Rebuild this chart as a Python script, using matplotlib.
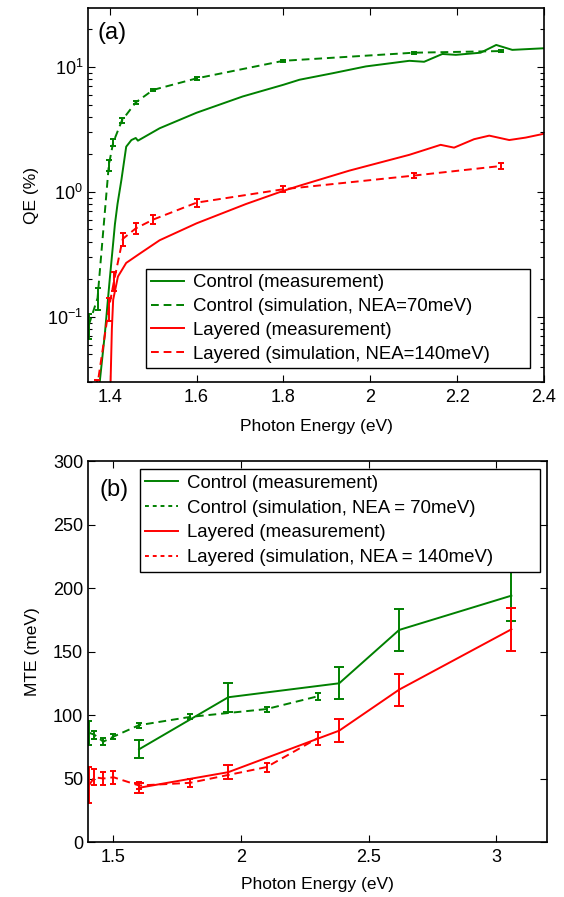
import numpy as np
import matplotlib
matplotlib.use("Agg")
import matplotlib.pyplot as plt
from matplotlib.lines import Line2D

plt.rcParams['font.family'] = ['Liberation Sans', 'DejaVu Sans']
plt.rcParams['font.size'] = 12.5
plt.rcParams['xtick.labelsize'] = 13
plt.rcParams['ytick.labelsize'] = 13
plt.rcParams['mathtext.fontset'] = 'custom'
plt.rcParams['mathtext.rm'] = 'Liberation Sans'

GREEN = '#008000'
RED = '#ff0000'

# ---- panel (a): QE vs photon energy ----
ctrl_meas_e = [1.377, 1.389, 1.400, 1.408, 1.412, 1.418, 1.427, 1.438, 1.450, 1.460,
               1.465, 1.515, 1.600, 1.706, 1.800, 1.837, 1.913, 1.990, 2.090, 2.124,
               2.166, 2.197, 2.254, 2.290, 2.327, 2.398]
ctrl_meas_qe = [0.03, 0.074, 0.198, 0.39, 0.55, 0.8, 1.25, 2.3, 2.6, 2.7,
                2.57, 3.23, 4.3, 5.8, 7.2, 7.9, 8.9, 10.1, 11.2, 11.0,
                12.7, 12.5, 13.0, 15.0, 13.7, 14.1]

lay_meas_e = [1.402, 1.405, 1.408, 1.419, 1.438, 1.469, 1.515, 1.600, 1.714, 1.800,
              1.837, 1.952, 2.090, 2.162, 2.193, 2.239, 2.274, 2.320, 2.358, 2.398]
lay_meas_qe = [0.03, 0.08, 0.137, 0.21, 0.27, 0.32, 0.41, 0.56, 0.8, 1.02,
               1.12, 1.48, 1.98, 2.38, 2.26, 2.64, 2.82, 2.6, 2.72, 2.91]

ctrl_sim_e = [1.352, 1.372, 1.398, 1.408, 1.428, 1.46, 1.50, 1.60, 1.80, 2.10, 2.30]
ctrl_sim_qe = [0.086, 0.141, 1.64, 2.48, 3.72, 5.2, 6.55, 8.1, 11.2, 13.0, 13.4]
ctrl_sim_err = [0.02, 0.028, 0.17, 0.15, 0.15, 0.15, 0.15, 0.2, 0.2, 0.2, 0.2]

lay_sim_e = [1.37, 1.398, 1.41, 1.43, 1.46, 1.50, 1.60, 1.80, 2.10, 2.30]
lay_sim_qe = [0.026, 0.117, 0.194, 0.42, 0.51, 0.6, 0.82, 1.05, 1.35, 1.61]
lay_sim_err = [0.005, 0.025, 0.033, 0.048, 0.05, 0.05, 0.06, 0.06, 0.07, 0.08]

# ---- panel (b): MTE vs photon energy ----
meas_e = [1.6, 1.95, 2.385, 2.62, 3.06]
ctrl_mte = [73, 114, 125, 167, 194]
ctrl_mte_err = [7, 11.5, 12.5, 16.5, 20]
lay_mte = [42.7, 55, 87.7, 120, 167.5]
lay_mte_err = [4, 5.5, 9, 12.5, 17]

sim_e = [1.405, 1.425, 1.46, 1.5, 1.6, 1.8, 2.1, 2.3]
ctrl_sim_mte = [86, 84.5, 79, 83, 92, 98.5, 104.7, 114.7]
ctrl_sim_mte_err = [9.5, 3.3, 2.7, 2, 2, 2, 2, 2.5]
lay_sim_mte = [45, 51, 50, 51, 44.5, 46.6, 59, 81.7]
lay_sim_mte_err = [14, 6.3, 5, 5, 3, 3, 3.5, 5]

labels_a = ['Control (measurement)', 'Control (simulation, NEA=70meV)',
            'Layered (measurement)', 'Layered (simulation, NEA=140meV)']
labels_b = ['Control (measurement)', 'Control (simulation, NEA = 70meV)',
            'Layered (measurement)', 'Layered (simulation, NEA = 140meV)']

fig = plt.figure(figsize=(5.64, 8.97), dpi=100)
ax1 = fig.add_axes([0.156, 0.574, 0.8085, 0.417])
ax2 = fig.add_axes([0.156, 0.0613, 0.814, 0.4247])

dash = (0, (4, 2.5))
eb = dict(lw=1.4, elinewidth=1.4, capthick=1.4)

ax1.plot(ctrl_meas_e, ctrl_meas_qe, color=GREEN, lw=1.4)
ax1.errorbar(ctrl_sim_e, ctrl_sim_qe, yerr=ctrl_sim_err, color=GREEN,
             linestyle=dash, capsize=2.5, **eb)
ax1.plot(lay_meas_e, lay_meas_qe, color=RED, lw=1.4)
ax1.errorbar(lay_sim_e, lay_sim_qe, yerr=lay_sim_err, color=RED,
             linestyle=dash, capsize=2.5, **eb)
ax1.set_yscale('log')
ax1.set_xlim(1.35, 2.4)
ax1.set_ylim(0.03, 29.6)
ax1.set_xticks(np.arange(1.4, 2.41, 0.2))
ax1.set_xticklabels(['1.4', '1.6', '1.8', '2', '2.2', '2.4'])
ax1.set_xlabel('Photon Energy (eV)', labelpad=9)
ax1.set_ylabel('QE (%)', labelpad=6)
ax1.text(0.021, 0.933, '(a)', transform=ax1.transAxes, fontsize=17, va='center')
h_a = [Line2D([], [], color=GREEN, lw=1.4),
       Line2D([], [], color=GREEN, lw=1.4, linestyle=dash),
       Line2D([], [], color=RED, lw=1.4),
       Line2D([], [], color=RED, lw=1.4, linestyle=dash)]
leg1 = ax1.legend(h_a, labels_a, loc='lower left',
                  bbox_to_anchor=(0.127, 0.0374, 0.842, 0.27), mode='expand',
                  fancybox=False, edgecolor='black', framealpha=1, fontsize=13.4,
                  handlelength=1.75, handletextpad=0.5, borderpad=0.3,
                  labelspacing=0.36, borderaxespad=0)
leg1.get_frame().set_linewidth(1.0)

ax2.errorbar(meas_e, ctrl_mte, yerr=ctrl_mte_err, color=GREEN, capsize=3.5, **eb)
ax2.errorbar(sim_e, ctrl_sim_mte, yerr=ctrl_sim_mte_err, color=GREEN,
             linestyle=dash, capsize=2, **eb)
ax2.errorbar(meas_e, lay_mte, yerr=lay_mte_err, color=RED, capsize=3.5, **eb)
ax2.errorbar(sim_e, lay_sim_mte, yerr=lay_sim_mte_err, color=RED,
             linestyle=dash, capsize=2, **eb)
ax2.set_xlim(1.4, 3.2)
ax2.set_ylim(0, 300)
ax2.set_xticks([1.5, 2, 2.5, 3])
ax2.set_xticklabels(['1.5', '2', '2.5', '3'])
ax2.set_yticks(np.arange(0, 301, 50))
ax2.set_xlabel('Photon Energy (eV)', labelpad=8)
ax2.set_ylabel('MTE (meV)', labelpad=9)
ax2.text(0.026, 0.924, '(b)', transform=ax2.transAxes, fontsize=17, va='center')
short = (0, (2, 2))
h_b = [Line2D([], [], color=GREEN, lw=1.4),
       Line2D([], [], color=GREEN, lw=1.4, linestyle=short),
       Line2D([], [], color=RED, lw=1.4),
       Line2D([], [], color=RED, lw=1.4, linestyle=short)]
leg2 = ax2.legend(h_b, labels_b, loc='upper left',
                  bbox_to_anchor=(0.113, 0.709, 0.871, 0.27), mode='expand',
                  fancybox=False, edgecolor='black', framealpha=1, fontsize=13.4,
                  handlelength=1.75, handletextpad=0.5, borderpad=0.3,
                  labelspacing=0.42, borderaxespad=0)
leg2.get_frame().set_linewidth(1.0)

for ax in (ax1, ax2):
    ax.tick_params(which='both', direction='in', top=True, right=True)
    ax.tick_params(which='major', length=5, width=0.8)
    ax.tick_params(which='minor', length=3, width=0.8)
    ax.tick_params(axis='x', pad=5)
    for s in ax.spines.values():
        s.set_linewidth(1.2)

fig.savefig('out.png', dpi=100)
